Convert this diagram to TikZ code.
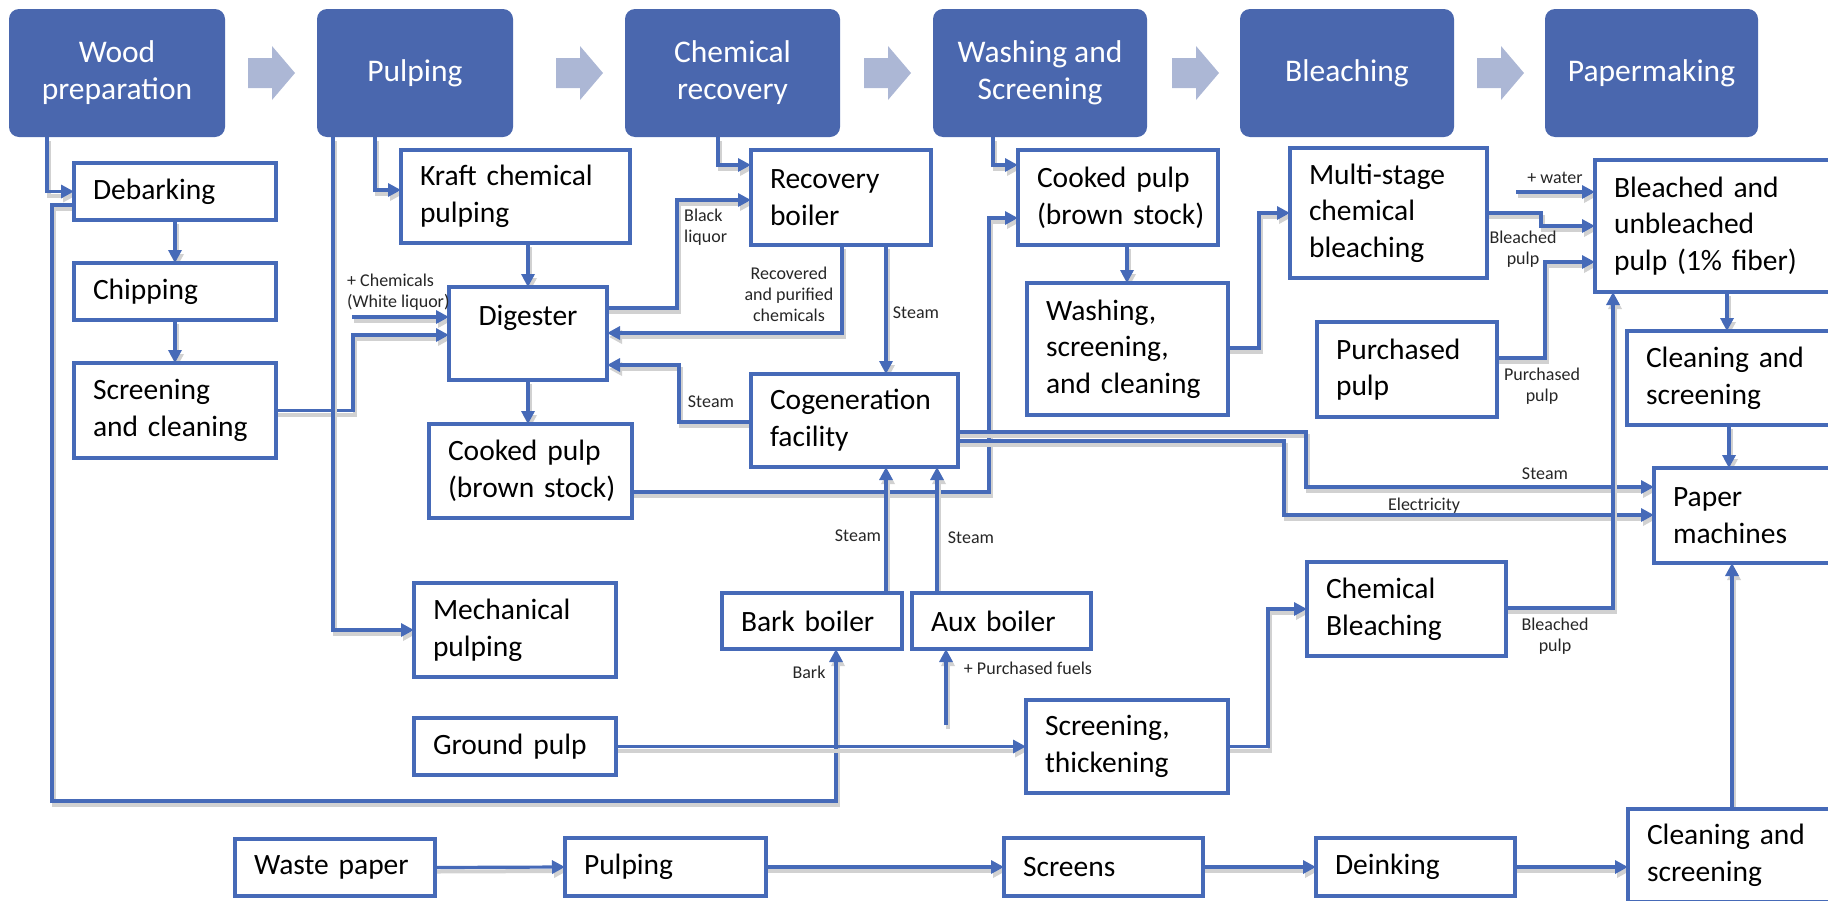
\documentclass[tikz,border=0pt]{standalone}
\usepackage{fontspec}
\setmainfont{Carlito}
\usetikzlibrary{arrows.meta}
\definecolor{lc}{RGB}{70,106,184}
\definecolor{hdr}{RGB}{74,103,174}
\definecolor{chev}{RGB}{172,183,213}
\pgfdeclarelayer{bg}
\pgfsetlayers{bg,main}
\newcommand\bfnt{\fontsize{29.5}{36.7}\selectfont}
\newcommand\hfnt{\fontsize{31.5}{37}\selectfont}
\newcommand\lfnt{\fontsize{18}{21}\selectfont}
\newcommand\pbx[6]{\pgfmathsetmacro\bW{#4-#2}\pgfmathsetmacro\bH{#5-#3}\pgfmathsetmacro\bT{#4-#2-38}%
  \node[pbox, minimum width=\bW pt, minimum height=\bH pt, text width=\bT pt] (#1) at (#2,#3) {#6};}
\newcommand\hbx[4]{\pgfmathsetmacro\bW{#3-#2}%
  \node[hbox, minimum width=\bW pt] (#1) at (#2,9) {#4};}
\tikzset{
 pbox/.style={draw=lc, line width=3.2pt, fill=white, anchor=north west, inner xsep=19pt, inner ysep=2pt, outer sep=0pt, align=left, font=\bfnt},
 hbox/.style={fill=hdr, rounded corners=10pt, anchor=north west, text=white, align=center, font=\hfnt, outer sep=0pt, inner sep=2pt, minimum height=128pt},
 conn/.style={draw=lc, line width=3.2pt, -{Triangle[length=13pt,width=13pt]}, preaction={draw=black!18, line width=4pt, transform canvas={shift={(2pt,-4pt)}}}},
 lbl/.style={font=\lfnt, inner sep=0pt, text=black!85},
 chevron/.style={fill=chev}
}
\begin{document}
\begin{tikzpicture}[x=1pt,y=-1pt]
\useasboundingbox (0,0) rectangle (1828,900);
\clip (0,0) rectangle (1828,900);
% headers
\hbx{h1}{9}{225}{Wood\\preparation}
\hbx{h2}{317}{513}{Pulping}
\hbx{h3}{625}{840}{Chemical\\recovery}
\hbx{h4}{933}{1147}{Washing and\\Screening}
\hbx{h5}{1240}{1454}{Bleaching}
\hbx{h6}{1545}{1758}{Papermaking}
\foreach \x in {248,556,864,1172,1477}
  \fill[chevron] (\x,58) -- ++(24,0) -- ++(0,-12) -- ++(23,27) -- ++(-23,27) -- ++(0,-12) -- ++(-24,0) -- cycle;
% process boxes
\pbx{deb}{74}{163}{276}{220}{Debarking}
\pbx{chip}{74}{263}{276}{320}{Chipping}
\pbx{scr}{74}{363}{276}{458}{Screening\\and cleaning}
\pbx{kraft}{401}{150}{630}{243}{\mbox{Kraft chemical}\\pulping}
\node[pbox, align=center, minimum width=158pt, minimum height=93pt, text width=120pt] (dig) at (449,287) {Digester\\\mbox{}};
\pbx{cook1}{429}{424}{632}{518}{\mbox{Cooked pulp}\\\mbox{(brown stock)}}
\pbx{mech}{414}{583}{616}{677}{Mechanical\\pulping}
\pbx{ground}{414}{718}{616}{775}{Ground pulp}
\pbx{rec}{751}{150}{931}{245}{Recovery\\boiler}
\pbx{cogen}{751}{374}{958}{467}{Cogeneration\\facility}
\pbx{bark}{722}{593}{902}{649}{\mbox{Bark boiler}}
\pbx{aux}{912}{593}{1091}{649}{\mbox{Aux boiler}}
\pbx{cook2}{1018}{150}{1218}{245}{\mbox{Cooked pulp}\\\mbox{(brown stock)}}
\pbx{wash}{1027}{283}{1228}{415}{Washing,\\screening,\\\mbox{and cleaning}}
\pbx{thick}{1026}{700}{1228}{793}{Screening,\\thickening}
\pbx{multi}{1290}{148}{1487}{278}{Multi-stage\\chemical\\bleaching}
\pbx{purch}{1317}{322}{1497}{417}{Purchased\\pulp}
\pbx{chemb}{1307}{562}{1506}{656}{Chemical\\Bleaching}
\pbx{bleached}{1595}{160}{1850}{292}{Bleached and\\unbleached\\\mbox{pulp (1\% fiber)}}
\pbx{clean1}{1627}{331}{1850}{425}{Cleaning and\\screening}
\pbx{paper}{1654}{468}{1850}{563}{Paper\\machines}
\pbx{clean2}{1628}{809}{1850}{902}{Cleaning and\\screening}
\pbx{waste}{235}{839}{435}{896}{\mbox{Waste paper}}
\pbx{pulp2}{565}{838}{766}{896}{Pulping}
\pbx{screens}{1004}{838}{1203}{896}{Screens}
\pbx{deink}{1316}{838}{1515}{896}{Deinking}
% free ends
\coordinate (chemin) at (352,317);
\coordinate (water) at (1516,192);
\coordinate (fuel) at (946,725);
% labels
\node[lbl, align=left, anchor=west] (lchem) at (347,292) {+ Chemicals\\(White liquor)};
\node[lbl, align=left, anchor=west] (lblack) at (684,227) {Black\\liquor};
\node[lbl, align=center] (lrecov) at (789,294) {Recovered\\and purified\\chemicals};
\node[lbl] (ls1) at (916,313) {Steam};
\node[lbl] (ls2) at (711,402) {Steam};
\node[lbl] (ls3) at (858,536) {Steam};
\node[lbl] (ls4) at (971,538) {Steam};
\node[lbl] (lbark) at (809,672) {Bark};
\node[lbl] (lfuel) at (1028,668) {+ Purchased fuels};
\node[lbl] (lwater) at (1555,178) {+ water};
\node[lbl, align=center] (lbp1) at (1523,249) {Bleached\\pulp};
\node[lbl, align=center] (lpp) at (1542,386) {Purchased\\pulp};
\node[lbl] (lsteam5) at (1545,474) {Steam};
\node[lbl] (lelec) at (1424,506) {Electricity};
\node[lbl, align=center] (lbp2) at (1555,636) {Bleached\\pulp};
% connectors
\begin{pgfonlayer}{bg}
\draw[conn] (h1.south -| 47,0) |- (deb.west);
\draw[conn] (deb.west |- 0,205) -| (52,801) -| (bark.south -| 836,0);
\draw[conn] (deb.south) -- (chip.north);
\draw[conn] (chip.south) -- (scr.north);
\draw[conn] (scr.east) -| (353,335) -- (dig.west |- 0,335);
\draw[conn] (chemin) -- (dig.west |- chemin);
\draw[conn] (h2.south -| 375,0) |- (kraft.west |- 0,190);
\draw[conn] (h2.south -| 333,0) |- (mech.west);
\draw[conn] (kraft.south -| dig.north) -- (dig.north);
\draw[conn] (dig.south) -- (dig.south |- cook1.north);
\draw[conn] (dig.east |- 0,308) -| (677,200) -- (rec.west |- 0,200);
\draw[conn] (rec.south -| 842,0) |- (dig.east |- 0,333);
\draw[conn] (rec.south -| 886,0) -- (cogen.north -| 886,0);
\draw[conn] (cogen.west |- 0,422) -| (679,365) -- (dig.east |- 0,365);
\draw[conn] (cook1.east |- 0,492) -| (989,218) -- (cook2.west |- 0,218);
\draw[conn] (h3.south -| 718,0) |- (rec.west |- 0,165);
\draw[conn] (h4.south -| 993,0) |- (cook2.west |- 0,165);
\draw[conn] (cook2.south -| 1127,0) -- (wash.north -| 1127,0);
\draw[conn] (wash.east |- 0,348) -| (1259,213) -- (multi.west);
\draw[conn] (multi.east) -| (1541,226) -- (bleached.west |- 0,226);
\draw[conn] (water) -- (bleached.west |- water);
\draw[conn] (purch.east |- 0,358) -| (1545,262) -- (bleached.west |- 0,262);
\draw[conn] (bleached.south -| 1727,0) -- (clean1.north -| 1727,0);
\draw[conn] (clean1.south -| 1729,0) -- (paper.north -| 1729,0);
\draw[conn] (cogen.east |- 0,432) -| (1306,487) -- (paper.west |- 0,487);
\draw[conn] (cogen.east |- 0,441) -| (1284,515) -- (paper.west |- 0,515);
\draw[conn] (chemb.east |- 0,608) -| (bleached.south -| 1613,0);
\draw[conn] (bark.north -| 886,0) -- (cogen.south -| 886,0);
\draw[conn] (aux.north -| 937,0) -- (cogen.south -| 937,0);
\draw[conn] (fuel) -- (aux.south -| fuel);
\draw[conn] (ground.east) -- (thick.west);
\draw[conn] (thick.east) -| (1268,609) -- (chemb.west);
\draw[conn] (waste.east) -- (pulp2.west);
\draw[conn] (pulp2.east) -- (screens.west);
\draw[conn] (screens.east) -- (deink.west);
\draw[conn] (deink.east) -- (clean2.west |- deink.east);
\draw[conn] (clean2.north -| 1732,0) -- (paper.south -| 1732,0);
\end{pgfonlayer}
\end{tikzpicture}
\end{document}
